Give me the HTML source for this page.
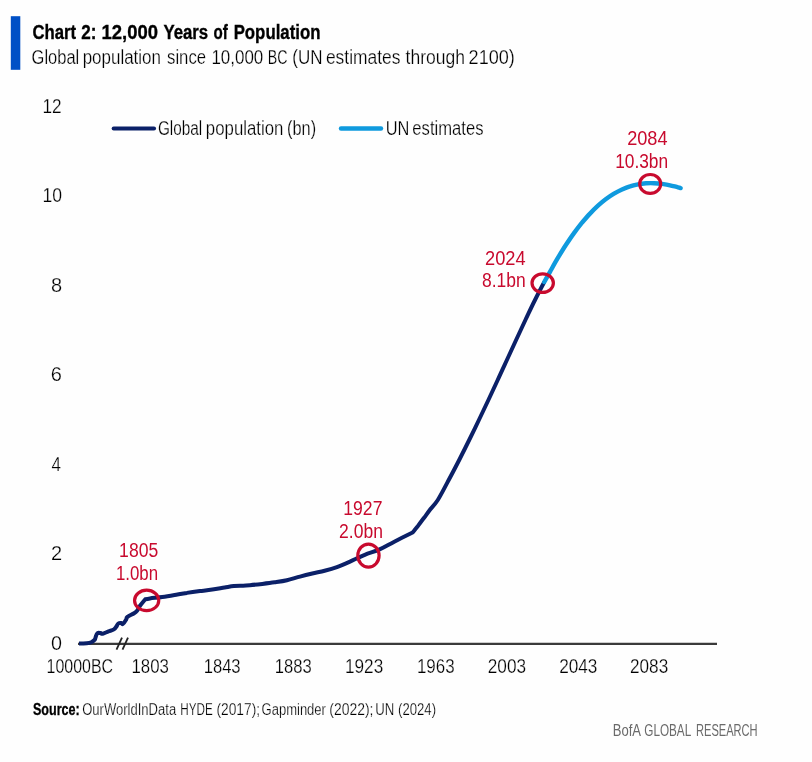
<!DOCTYPE html>
<html><head><meta charset="utf-8"><style>
html,body{margin:0;padding:0;background:#fefefe;}
svg{display:block;font-family:"Liberation Sans", sans-serif;will-change:transform;}
.thin{stroke:#fefefe;stroke-width:0.25px;}
.thinr{stroke:#fefefe;stroke-width:0.12px;}
</style></head><body>
<svg width="812" height="762" viewBox="0 0 812 762">
<rect x="0" y="0" width="812" height="762" fill="#fefefe"/>
<rect x="10.8" y="16.2" width="9.5" height="53.6" fill="#0050c6"/>
<line x1="78" y1="643.8" x2="717" y2="643.8" stroke="#3a3a3a" stroke-width="2.2"/>
<g stroke="#222" stroke-width="1.8"><line x1="116.5" y1="649.5" x2="122" y2="637.5"/><line x1="122.5" y1="649.5" x2="128" y2="637.5"/></g>
<line x1="113.7" y1="128.5" x2="154" y2="128.5" stroke="#0b2068" stroke-width="4.1" stroke-linecap="round"/>
<line x1="341" y1="128.5" x2="381" y2="128.5" stroke="#0f9ade" stroke-width="4.4" stroke-linecap="round"/>
<path d="M79.0,643.5 C80.3,643.5 84.8,643.4 86.8,643.2 C88.8,643.0 90.0,642.8 91.3,642.2 C92.6,641.6 93.9,640.9 94.7,639.8 C95.5,638.6 95.7,636.4 96.2,635.3 C96.7,634.1 97.0,633.3 97.7,632.9 C98.4,632.5 99.8,633.0 100.6,633.1 C101.4,633.2 101.3,634.1 102.6,633.8 C103.9,633.5 106.6,632.1 108.5,631.4 C110.4,630.7 112.6,630.2 113.9,629.4 C115.2,628.6 115.7,627.5 116.4,626.5 C117.1,625.5 117.5,624.1 118.3,623.5 C119.1,622.9 120.5,622.9 121.3,623.0 C122.0,623.1 122.0,624.6 122.8,624.0 C123.6,623.4 125.5,620.8 126.2,619.6 C126.9,618.5 125.9,618.2 127.2,617.1 C128.5,616.0 132.4,614.3 134.1,613.2 C135.8,612.1 136.1,611.9 137.1,610.7 C138.1,609.5 138.6,607.7 140.0,605.8 C141.4,603.9 144.4,600.4 145.3,599.3 C146.1,599.1 147.2,598.8 150.0,598.4 C152.8,598.0 158.2,597.6 162.3,597.0 C166.4,596.4 170.5,595.7 174.6,595.0 C178.7,594.3 182.7,593.5 186.9,592.9 C191.1,592.2 195.8,591.6 200.0,591.1 C204.2,590.6 208.2,590.2 212.3,589.6 C216.4,589.0 221.0,588.1 224.6,587.5 C228.2,586.9 230.8,586.3 233.9,586.0 C237.0,585.7 240.4,585.8 243.1,585.7 C245.8,585.6 246.8,585.5 250.0,585.2 C253.2,585.0 258.2,584.4 262.3,583.9 C266.4,583.4 270.5,582.9 274.6,582.3 C278.7,581.7 282.7,581.2 286.9,580.2 C291.1,579.2 295.8,577.7 300.0,576.6 C304.2,575.5 308.2,574.5 312.3,573.5 C316.4,572.5 320.5,571.9 324.6,570.8 C328.7,569.7 332.7,568.6 336.9,567.1 C341.1,565.6 345.4,563.7 350.0,561.6 C354.6,559.5 359.9,556.8 364.8,554.8 C369.7,552.8 374.7,551.6 379.6,549.4 C384.5,547.2 388.8,544.5 394.3,541.7 C399.8,538.9 409.6,534.0 412.6,532.5 C413.4,531.5 415.4,529.2 417.3,526.8 C419.2,524.3 422.1,520.5 424.1,517.8 C426.1,515.1 427.1,513.5 429.4,510.5 C431.7,507.5 434.5,505.1 437.8,500.0 C441.0,494.9 445.2,486.7 448.7,480.0 C452.3,473.3 455.8,466.7 459.2,460.0 C462.6,453.3 465.9,446.7 469.2,440.0 C472.5,433.3 475.7,426.7 478.9,420.0 C482.1,413.3 485.2,406.7 488.4,400.0 C491.5,393.3 494.6,386.7 497.7,380.0 C500.7,373.3 503.8,366.7 506.9,360.0 C510.0,353.3 513.0,346.7 516.1,340.0 C519.2,333.3 522.3,326.7 525.4,320.0 C528.6,313.3 531.8,306.3 535.0,300.0 C538.1,293.7 542.7,285.0 544.3,282.0" fill="none" stroke="#0b2068" stroke-width="4.0" stroke-linejoin="round" stroke-linecap="butt"/>
<path d="M544.3,282.0 C545.2,280.3 547.7,275.8 550.0,271.8 C552.3,267.7 555.3,262.2 558.0,257.7 C560.7,253.2 563.3,248.9 566.0,244.8 C568.7,240.7 571.3,236.8 574.0,233.1 C576.7,229.5 579.3,226.0 582.0,222.7 C584.7,219.5 587.3,216.4 590.0,213.6 C592.7,210.8 595.3,208.2 598.0,205.7 C600.7,203.3 603.3,201.1 606.0,199.1 C608.7,197.1 611.3,195.3 614.0,193.7 C616.7,192.1 619.3,190.7 622.0,189.5 C624.7,188.3 627.3,187.2 630.0,186.4 C632.7,185.5 635.3,184.9 638.0,184.3 C640.7,183.8 643.3,183.5 646.0,183.3 C648.7,183.1 651.3,183.1 654.0,183.2 C656.7,183.3 659.3,183.5 662.0,183.9 C664.7,184.3 667.3,184.7 670.0,185.3 C672.7,185.9 676.2,186.9 678.0,187.3 C679.8,187.8 680.2,188.0 680.6,188.1" fill="none" stroke="#0f9ade" stroke-width="4.4" stroke-linejoin="round" stroke-linecap="round"/>
<ellipse cx="146.65" cy="600.4" rx="12.1" ry="10.2" fill="none" stroke="#c80a2e" stroke-width="3.2"/>
<ellipse cx="368.45" cy="555.6" rx="10.65" ry="11.55" fill="none" stroke="#c80a2e" stroke-width="3.2"/>
<ellipse cx="542.7" cy="283.1" rx="10.7" ry="9.3" fill="none" stroke="#c80a2e" stroke-width="3.2"/>
<ellipse cx="650.2" cy="183.95" rx="10.5" ry="9.45" fill="none" stroke="#c80a2e" stroke-width="3.2"/>
<text x="32.5" y="39.3" font-size="20.3" font-weight="bold" textLength="43.67" lengthAdjust="spacingAndGlyphs" fill="#000" stroke="#000" stroke-width="0.35">Chart</text>
<text x="81.2" y="39.3" font-size="20.3" font-weight="bold" textLength="15.18" lengthAdjust="spacingAndGlyphs" fill="#000" stroke="#000" stroke-width="0.35">2:</text>
<text x="101.59" y="39.3" font-size="20.3" font-weight="bold" textLength="56.45" lengthAdjust="spacingAndGlyphs" fill="#000" stroke="#000" stroke-width="0.35">12,000</text>
<text x="163.4" y="39.3" font-size="20.3" font-weight="bold" textLength="44.82" lengthAdjust="spacingAndGlyphs" fill="#000" stroke="#000" stroke-width="0.35">Years</text>
<text x="213.5" y="39.3" font-size="20.3" font-weight="bold" textLength="14.27" lengthAdjust="spacingAndGlyphs" fill="#000" stroke="#000" stroke-width="0.35">of</text>
<text x="233.67" y="39.3" font-size="20.3" font-weight="bold" textLength="86.78" lengthAdjust="spacingAndGlyphs" fill="#000" stroke="#000" stroke-width="0.35">Population</text>
<text x="31.58" y="63.5" font-size="20" textLength="47.7" lengthAdjust="spacingAndGlyphs" fill="#000" class="thin">Global</text>
<text x="82.65" y="63.5" font-size="20" textLength="78.36" lengthAdjust="spacingAndGlyphs" fill="#000" class="thin">population</text>
<text x="167.06" y="63.5" font-size="20" textLength="39.02" lengthAdjust="spacingAndGlyphs" fill="#000" class="thin">since</text>
<text x="211.45" y="63.5" font-size="20" textLength="51.84" lengthAdjust="spacingAndGlyphs" fill="#000" class="thin">10,000</text>
<text x="267.79" y="63.5" font-size="20" textLength="19.78" lengthAdjust="spacingAndGlyphs" fill="#000" class="thin">BC</text>
<text x="292.25" y="63.5" font-size="20" textLength="30.27" lengthAdjust="spacingAndGlyphs" fill="#000" class="thin">(UN</text>
<text x="325.93" y="63.5" font-size="20" textLength="74.59" lengthAdjust="spacingAndGlyphs" fill="#000" class="thin">estimates</text>
<text x="405.6" y="63.5" font-size="20" textLength="59.44" lengthAdjust="spacingAndGlyphs" fill="#000" class="thin">through</text>
<text x="468.6" y="63.5" font-size="20" textLength="46.25" lengthAdjust="spacingAndGlyphs" fill="#000" class="thin">2100)</text>
<text x="42.54" y="112.8" font-size="20" textLength="19.14" lengthAdjust="spacingAndGlyphs" fill="#000" class="thin">12</text>
<text x="42.52" y="202.2" font-size="20" textLength="19.58" lengthAdjust="spacingAndGlyphs" fill="#000" class="thin">10</text>
<text x="51.0" y="291.8" font-size="20" textLength="11.12" lengthAdjust="spacingAndGlyphs" fill="#000" class="thin">8</text>
<text x="50.8" y="381.3" font-size="20" textLength="11.12" lengthAdjust="spacingAndGlyphs" fill="#000" class="thin">6</text>
<text x="51.6" y="470.8" font-size="20" textLength="9.51" lengthAdjust="spacingAndGlyphs" fill="#000" class="thin">4</text>
<text x="51.0" y="560.3" font-size="20" textLength="11.12" lengthAdjust="spacingAndGlyphs" fill="#000" class="thin">2</text>
<text x="51.01" y="649.6" font-size="20" textLength="11.0" lengthAdjust="spacingAndGlyphs" fill="#000" class="thin">0</text>
<text x="157.93" y="134.6" font-size="20" textLength="44.29" lengthAdjust="spacingAndGlyphs" fill="#000" class="thin">Global</text>
<text x="205.86" y="134.6" font-size="20" textLength="77.54" lengthAdjust="spacingAndGlyphs" fill="#000" class="thin">population</text>
<text x="287.09" y="134.6" font-size="20" textLength="28.99" lengthAdjust="spacingAndGlyphs" fill="#000" class="thin">(bn)</text>
<text x="385.68" y="134.6" font-size="20" textLength="23.67" lengthAdjust="spacingAndGlyphs" fill="#000" class="thin">UN</text>
<text x="412.37" y="134.6" font-size="20" textLength="71.12" lengthAdjust="spacingAndGlyphs" fill="#000" class="thin">estimates</text>
<text x="46.6" y="673" font-size="20" textLength="66.52" lengthAdjust="spacingAndGlyphs" fill="#000" class="thin">10000BC</text>
<text x="131.46" y="673" font-size="20" textLength="37.46" lengthAdjust="spacingAndGlyphs" fill="#000" class="thin">1803</text>
<text x="203.67" y="673" font-size="20" textLength="36.95" lengthAdjust="spacingAndGlyphs" fill="#000" class="thin">1843</text>
<text x="274.87" y="673" font-size="20" textLength="36.95" lengthAdjust="spacingAndGlyphs" fill="#000" class="thin">1883</text>
<text x="345.04" y="673" font-size="20" textLength="38.19" lengthAdjust="spacingAndGlyphs" fill="#000" class="thin">1923</text>
<text x="416.95" y="673" font-size="20" textLength="37.67" lengthAdjust="spacingAndGlyphs" fill="#000" class="thin">1963</text>
<text x="487.74" y="673" font-size="20" textLength="38.29" lengthAdjust="spacingAndGlyphs" fill="#000" class="thin">2003</text>
<text x="559.14" y="673" font-size="20" textLength="38.29" lengthAdjust="spacingAndGlyphs" fill="#000" class="thin">2043</text>
<text x="630.04" y="673" font-size="20" textLength="38.19" lengthAdjust="spacingAndGlyphs" fill="#000" class="thin">2083</text>
<text x="119.12" y="557" font-size="20" textLength="39.12" lengthAdjust="spacingAndGlyphs" fill="#c80a2e">1805</text>
<text x="115.96" y="579.6" font-size="20" textLength="42.14" lengthAdjust="spacingAndGlyphs" fill="#c80a2e">1.0bn</text>
<text x="343.32" y="515.4" font-size="20" textLength="39.12" lengthAdjust="spacingAndGlyphs" fill="#c80a2e">1927</text>
<text x="339.12" y="537.8" font-size="20" textLength="43.8" lengthAdjust="spacingAndGlyphs" fill="#c80a2e">2.0bn</text>
<text x="485.09" y="264.9" font-size="20" textLength="40.57" lengthAdjust="spacingAndGlyphs" fill="#c80a2e">2024</text>
<text x="482.03" y="287.3" font-size="20" textLength="43.7" lengthAdjust="spacingAndGlyphs" fill="#c80a2e">8.1bn</text>
<text x="627.19" y="145.2" font-size="20" textLength="40.36" lengthAdjust="spacingAndGlyphs" fill="#c80a2e">2084</text>
<text x="615.13" y="167.8" font-size="20" textLength="52.98" lengthAdjust="spacingAndGlyphs" fill="#c80a2e">10.3bn</text>
<text x="33.0" y="715" font-size="16" font-weight="bold" textLength="46.75" lengthAdjust="spacingAndGlyphs" fill="#000" stroke="#000" stroke-width="0.3">Source:</text>
<text x="82.19" y="715" font-size="16" textLength="93.95" lengthAdjust="spacingAndGlyphs" fill="#000" class="thin">OurWorldInData</text>
<text x="180.27" y="715" font-size="16" textLength="32.46" lengthAdjust="spacingAndGlyphs" fill="#000" class="thin">HYDE</text>
<text x="216.44" y="715" font-size="16" textLength="43.63" lengthAdjust="spacingAndGlyphs" fill="#000" class="thin">(2017);</text>
<text x="261.59" y="715" font-size="16" textLength="64.34" lengthAdjust="spacingAndGlyphs" fill="#000" class="thin">Gapminder</text>
<text x="329.33" y="715" font-size="16" textLength="44.15" lengthAdjust="spacingAndGlyphs" fill="#000" class="thin">(2022);</text>
<text x="375.18" y="715" font-size="16" textLength="19.04" lengthAdjust="spacingAndGlyphs" fill="#000" class="thin">UN</text>
<text x="398.08" y="715" font-size="16" textLength="37.93" lengthAdjust="spacingAndGlyphs" fill="#000" class="thin">(2024)</text>
<text x="612.79" y="735.5" font-size="16" textLength="28.26" lengthAdjust="spacingAndGlyphs" fill="#6a6a6a">BofA</text>
<text x="644.27" y="735.5" font-size="16" textLength="46.96" lengthAdjust="spacingAndGlyphs" fill="#6a6a6a">GLOBAL</text>
<text x="696.01" y="735.5" font-size="16" textLength="61.62" lengthAdjust="spacingAndGlyphs" fill="#6a6a6a">RESEARCH</text>
</svg>
</body></html>
